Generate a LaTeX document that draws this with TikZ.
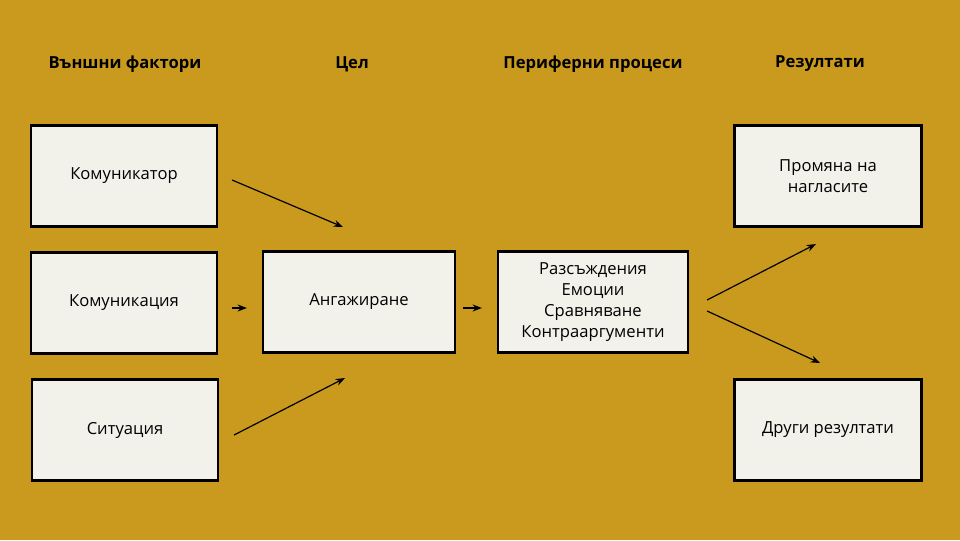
\documentclass[tikz,border=0pt]{standalone}
\usepackage{fontspec}
\setmainfont{Open Sans}
\usetikzlibrary{arrows.meta,positioning}
\definecolor{bgold}{HTML}{C99A1E}
\definecolor{paper}{HTML}{F2F1EA}
\tikzset{
  font=\fontsize{12.5}{16}\selectfont,
  box/.style={
    draw,
    line width=1.6pt,
    fill=paper,
    align=center,
    minimum width=186\unitpx,
    minimum height=101\unitpx,
    inner sep=2pt
  },
  head/.style={font=\fontsize{12.5}{16}\selectfont\bfseries},
  arrow/.style={-Stealth, line width=0.9pt}
}
\newlength{\unitpx}
\setlength{\unitpx}{0.02646cm}
\begin{document}
\begin{tikzpicture}[x=\unitpx, y=-\unitpx]
\fill[bgold] (0,0) rectangle (960,540);
\useasboundingbox (0,0) rectangle (960,540);

% column headers
\node[head] (hext) at (125,64) {Външни фактори};
\node[head] (hgoal) at (352,64) {Цел};
\node[head] (hper) at (593,64) {Периферни процеси};
\node[head] (hres) at (820,64) {Резултати};

% boxes
\node[box] (comr) at (124,176) {Комуникатор};
\node[box] (comn) at (124,303) {Комуникация};
\node[box] (sit) at (125,430) {Ситуация};
\node[box, minimum width=192\unitpx] (eng) at (359,302) {Ангажиране};
\node[box, minimum width=190\unitpx] (proc) at (593,302) {Разсъждения\\Емоции\\Сравняване\\Контрааргументи};
\node[box, minimum width=187\unitpx] (chg) at (828,176) {Промяна на\\нагласите};
\node[box, minimum width=187\unitpx] (oth) at (828,430) {Други резултати};

% free arrow ends
\coordinate (a1) at (343,227);
\coordinate (a3) at (345,378);
\coordinate (r1) at (816,244);
\coordinate (r2) at (820,363);

\draw[arrow] ([xshift=14\unitpx,yshift=-4\unitpx]comr.east) -- (a1);
\draw[arrow] ([xshift=14\unitpx,yshift=-5\unitpx]comn.east) -- ([xshift=-15\unitpx,yshift=-6\unitpx]eng.west);
\draw[arrow] ([xshift=15\unitpx,yshift=-5\unitpx]sit.east) -- (a3);
\draw[arrow] ([xshift=7\unitpx,yshift=-6\unitpx]eng.east) -- ([xshift=-15\unitpx,yshift=-6\unitpx]proc.west);
\draw[arrow] ([xshift=18\unitpx,yshift=2\unitpx]proc.east) -- (r1);
\draw[arrow] ([xshift=18\unitpx,yshift=-9\unitpx]proc.east) -- (r2);
\end{tikzpicture}
\end{document}
